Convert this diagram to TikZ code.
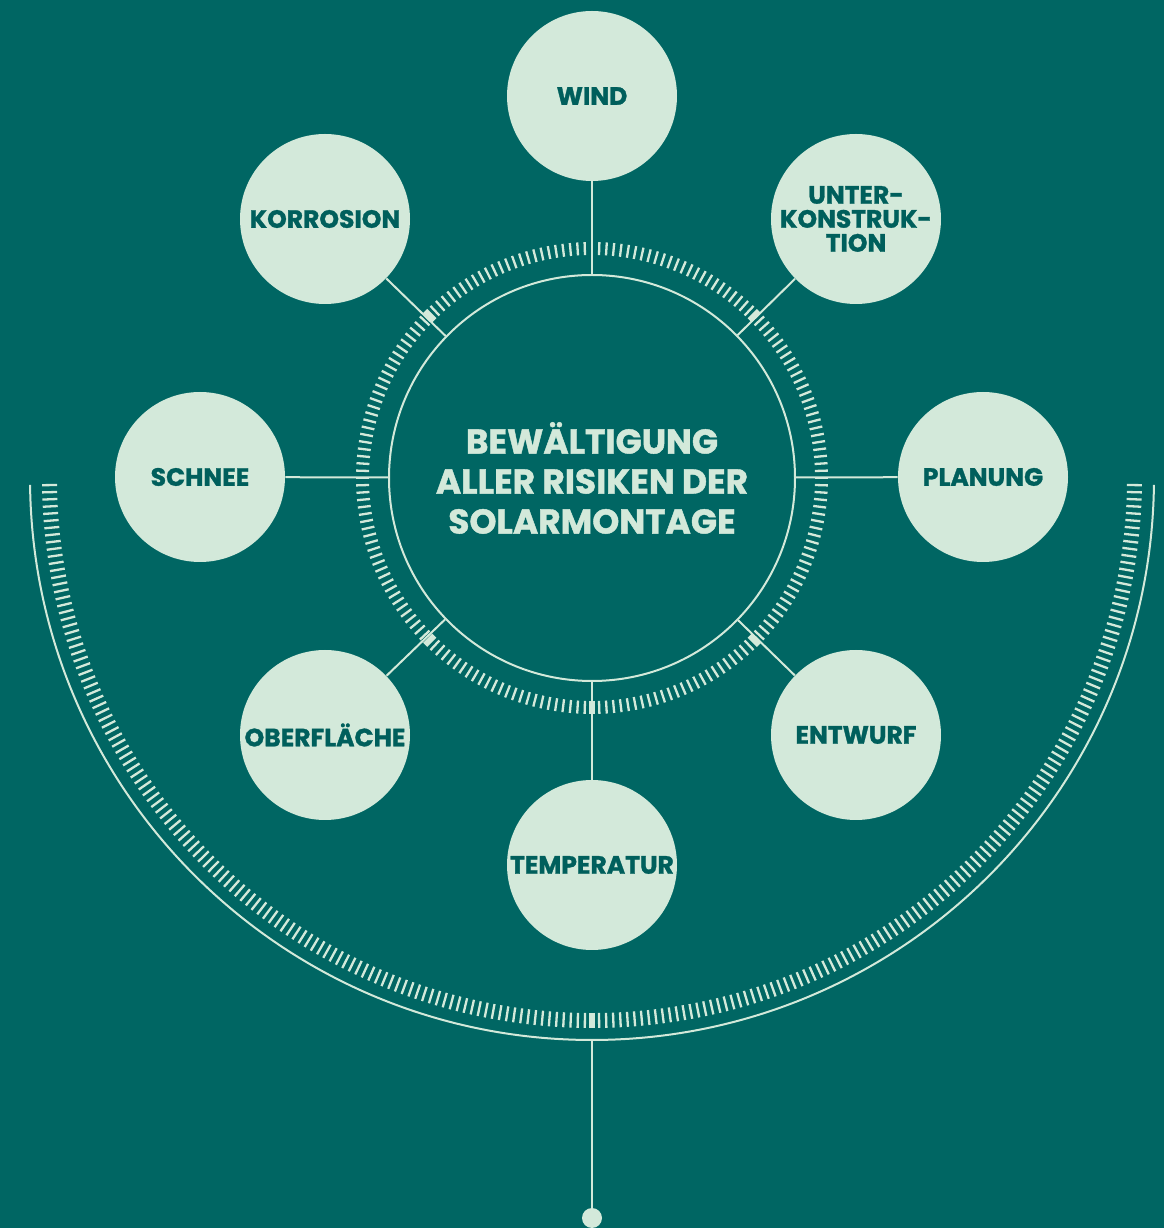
\documentclass[tikz,border=0pt]{standalone}
\usepackage{fontspec}
\setmainfont{Poppins}[BoldFeatures={FakeBold=1.2}]
\definecolor{bg}{HTML}{006663}
\definecolor{mint}{HTML}{D3E9DA}
\definecolor{deep}{HTML}{005F5C}
\begin{document}
\begin{tikzpicture}[x=0.5pt,y=0.5pt,
  sat/.style={circle, fill=mint, inner sep=0pt, minimum size=85pt, text=deep,
    align=center, font=\fontsize{12.5}{12}\selectfont\bfseries},
  core/.style={circle, draw=mint, line width=1pt, inner sep=0pt, minimum size=203pt,
    text=mint, align=center, font=\fontsize{17.2}{20}\selectfont\bfseries},
  link/.style={draw=mint, line width=1pt},
  tick/.style={draw=mint, line width=1.15pt},
  bigtick/.style={draw=mint, line width=3pt}]
\fill[bg] (0,0) rectangle (1164,1228);
\useasboundingbox (0,0) rectangle (1164,1228);
\coordinate (C) at (592,750);
% big arc with ticks
\draw[link] ([shift={(180.7:562)}]C) arc[start angle=180.7, end angle=359.3, radius=562];
\foreach \i in {1,...,239}{
  \pgfmathsetmacro\a{180+\i*0.75}
  \ifnum\i=120
    \draw[bigtick] ([shift={(\a:535)}]C) -- ([shift={(\a:550)}]C);
  \else
    \draw[tick] ([shift={(\a:535)}]C) -- ([shift={(\a:550)}]C);
  \fi
}
% inner ring ticks
\foreach \i in {0,...,199}{
  \pgfmathsetmacro\a{\i*1.8}
  \pgfmathtruncatemacro\r{mod(\i,25)}
  \pgfmathtruncatemacro\isbig{(\r==0 && \i!=0 && \i!=50 && \i!=100) ? 1 : 0}
  \ifnum\isbig=1
    \draw[bigtick] ([shift={(\a:223)}]C) -- ([shift={(\a:236)}]C);
  \else
    \draw[tick] ([shift={(\a:223)}]C) -- ([shift={(\a:236)}]C);
  \fi
}
% core
\node[core] (core) at (C) {BEWÄLTIGUNG\\ALLER RISIKEN DER\\SOLARMONTAGE};
% satellites
\node[sat] (wind) at (592,1132) {WIND};
\node[sat] (korr) at (325,1009) {KORROSION};
\node[sat] (unter) at (856,1009) {UNTER-\\KONSTRUK-\\TION};
\node[sat] (schnee) at (200,751) {SCHNEE};
\node[sat] (plan) at (983,751) {PLANUNG};
\node[sat] (ober) at (325,493) {OBERFLÄCHE};
\node[sat] (entw) at (856,493) {ENTWURF};
\node[sat] (temp) at (592,363) {TEMPERATUR};
\foreach \s in {wind,korr,unter,schnee,plan,ober,entw,temp}
  \draw[link] (\s) -- (core);
% bottom stem
\coordinate (arcbot) at (592,188);
\node[circle, fill=mint, inner sep=0pt, minimum size=10pt] (dot) at (592,10) {};
\draw[link] (arcbot) -- (dot);
\end{tikzpicture}
\end{document}
